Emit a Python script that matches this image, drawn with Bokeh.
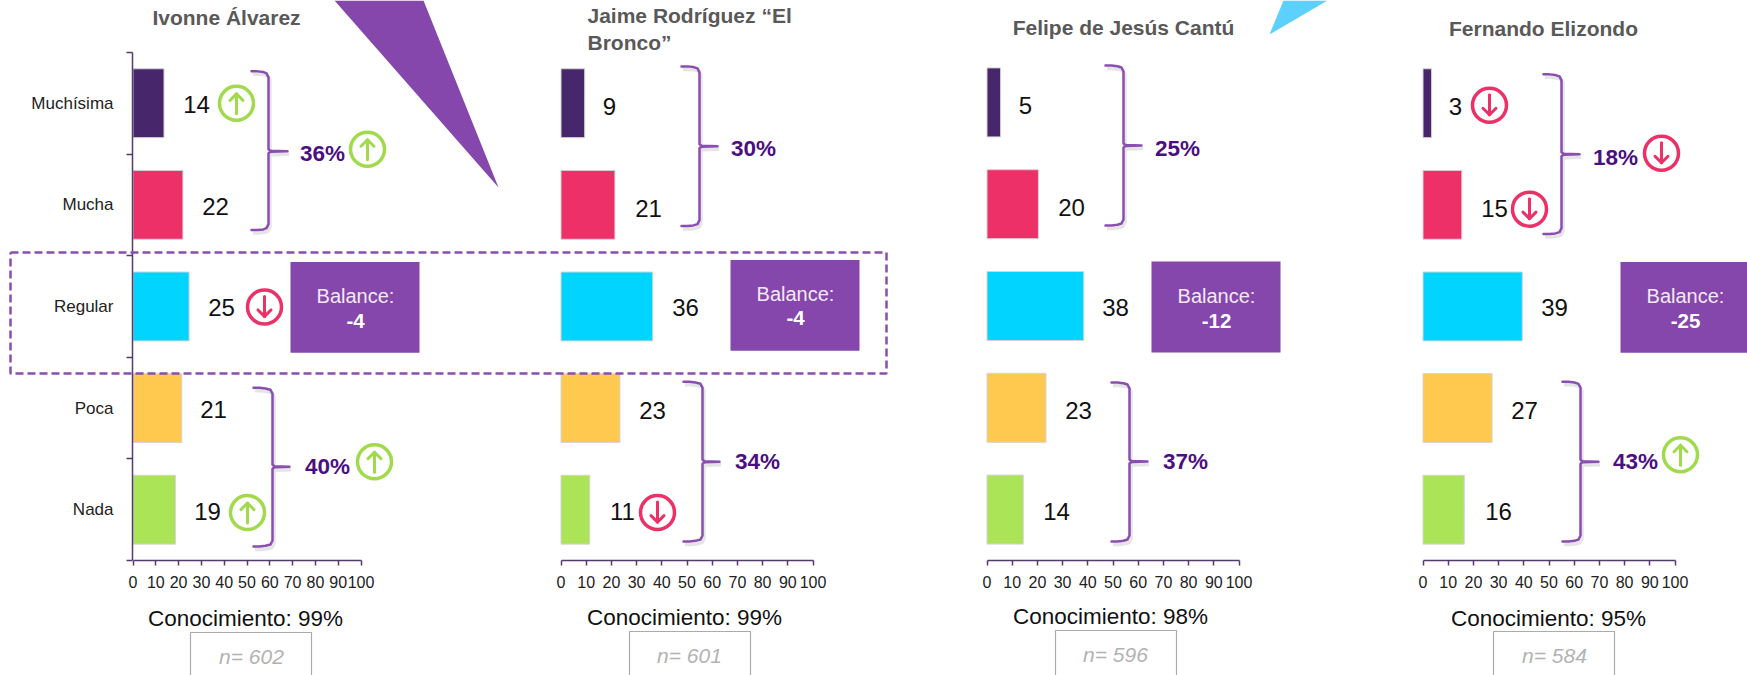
from bokeh.plotting import figure
from bokeh.layouts import row, column
from bokeh.models import Range1d, FixedTicker, AllLabels
from bokeh.core.properties import value
from bokeh.embed import file_html
from bokeh.resources import INLINE

# ---------- data ----------
categories = ["Muchísima", "Mucha", "Regular", "Poca", "Nada"]
x_ticks = [0, 10, 20, 30, 40, 50, 60, 70, 80, 90, 100]
bars_ivonne = [13.6, 21.9, 24.6, 21.4, 18.6]
bars_jaime = [9.4, 21.4, 36.4, 23.4, 11.4]
bars_felipe = [5.4, 20.4, 38.4, 23.4, 14.4]
bars_fernando = [3.4, 15.4, 39.4, 27.4, 16.4]
labels_ivonne = ["14", "22", "25", "21", "19"]
labels_jaime = ["9", "21", "36", "23", "11"]
labels_felipe = ["5", "20", "38", "23", "14"]
labels_fernando = ["3", "15", "39", "27", "16"]
names = ["Ivonne Álvarez", "Jaime Rodríguez “El\nBronco”", "Felipe de Jesús Cantú", "Fernando Elizondo"]
group_high = ["36%", "30%", "25%", "18%"]
group_low = ["40%", "34%", "37%", "43%"]
balances = ["-4", "-4", "-12", "-25"]
conocimiento = ["Conocimiento: 99%", "Conocimiento: 99%", "Conocimiento: 98%", "Conocimiento: 95%"]
sample = ["n= 602", "n= 601", "n= 596", "n= 584"]

# ---------- style ----------
FONT = "Liberation Sans"
COLORS = ["#47266B", "#EE3068", "#00D4FF", "#FFC84E", "#ABE457"]
PURPLE = "#8547AB"
BRACE = "#8A4DB0"
DEEP = "#4B0F82"
UP = "#A2DA4E"
DOWN = "#EC3068"
AXIS = "#533A70"
UNIT = 101.8
TOP, BOTTOM = 0, 675

panels = [
    dict(left=0, right=520, x0=132.5, scale=2.28, base=561, vals=bars_ivonne, labs=labels_ivonne,
         lab_pos=[(196, 104), (215, 206), (221, 308), (213, 410), (207, 512)],
         brace=[(251, 268, 71, 230, 151, 287), (253, 272, 388, 547, 467, 289)],
         pct_pos=[(322, 153), (327, 467)],
         arrows=[(236, 103, 1), (367, 149, 1), (264, 307, -1), (374, 462, 1), (247, 513, 1)],
         bal=(290, 419, 262, 353, 355, 296, 321),
         title=(226, 17, "center"), con=(245, 618), nbox=(190, 311, 632), ntext=(251, 656)),
    dict(left=520, right=960, x0=560.5, scale=2.52, base=561, vals=bars_jaime, labs=labels_jaime,
         lab_pos=[(609, 106), (648, 208), (685, 308), (652, 411), (622, 512)],
         brace=[(681, 699, 66, 226, 146, 717), (683, 702, 382, 542, 462, 719)],
         pct_pos=[(753, 148), (757, 462)],
         arrows=[(657, 513, -1)],
         bal=(730, 859, 260, 351, 795, 294, 318),
         title=(587, 28.5, "left"), con=(684, 617), nbox=(629, 750, 631), ntext=(689, 655)),
    dict(left=960, right=1380, x0=986.5, scale=2.52, base=560, vals=bars_felipe, labs=labels_felipe,
         lab_pos=[(1025, 105), (1071, 207), (1115, 307), (1078, 410), (1056, 511)],
         brace=[(1105, 1123, 65, 225, 145, 1141), (1111, 1129, 382, 541, 461, 1147)],
         pct_pos=[(1177, 148), (1185, 461)],
         arrows=[],
         bal=(1151, 1280, 261, 352, 1216, 295, 320),
         title=(1123, 27, "center"), con=(1110, 616), nbox=(1055, 1176, 630), ntext=(1115, 654)),
    dict(left=1380, right=1747, x0=1422.5, scale=2.52, base=561, vals=bars_fernando, labs=labels_fernando,
         lab_pos=[(1455, 106), (1494, 208), (1554, 308), (1524, 411), (1498, 512)],
         brace=[(1543, 1561, 74, 234, 154, 1579), (1562, 1580, 382, 542, 462, 1598)],
         pct_pos=[(1615, 157), (1635, 462)],
         arrows=[(1489, 105, -1), (1661, 153, -1), (1529, 209, -1), (1680, 455, 1)],
         bal=(1620, 1760, 262, 353, 1685, 296, 321),
         title=(1543, 28, "center"), con=(1548, 618), nbox=(1493, 1614, 631), ntext=(1554, 655)),
]

figs = []
for i, P in enumerate(panels):
    x0, sc, base = P["x0"], P["scale"], P["base"]
    fx = lambda px, x0=x0, sc=sc: (px - x0) / sc
    fy = lambda py, base=base: (base - py) / UNIT
    frame_left = int(x0) if i == 0 else P["left"]
    p = figure(width=P["right"] - P["left"], height=BOTTOM - TOP,
               x_range=Range1d(fx(frame_left), fx(P["right"])),
               y_range=Range1d(0, fy(TOP)),
               toolbar_location=None, output_backend="svg",
               y_axis_location="left" if i == 0 else None)
    p.min_border_left = frame_left - P["left"]
    p.min_border_right = 0
    p.min_border_top = 0
    p.min_border_bottom = BOTTOM - base
    p.outline_line_color = None
    p.grid.visible = False
    p.background_fill_color = "white"

    ax = p.xaxis[0]
    ax.ticker = FixedTicker(ticks=x_ticks)
    ax.bounds = (0, 100)
    ax.axis_line_color = AXIS
    ax.axis_line_width = 1.5
    ax.major_tick_line_color = AXIS
    ax.major_tick_line_width = 1.5
    ax.major_tick_in = 0
    ax.major_tick_out = 5
    ax.minor_tick_in = 0
    ax.minor_tick_out = 0
    ax.major_label_policy = AllLabels()
    ax.major_label_standoff = 10
    ax.major_label_text_font = FONT
    ax.major_label_text_font_size = "16px"
    ax.major_label_text_color = "#222222"

    ypos = [4.5, 3.5, 2.5, 1.5, 0.5]
    if i == 0:
        ay = p.yaxis[0]
        ay.ticker = FixedTicker(ticks=ypos, minor_ticks=[0, 1, 2, 3, 4, 5])
        ay.major_label_overrides = dict(zip(ypos, categories))
        ay.bounds = (0, 5)
        ay.axis_line_color = AXIS
        ay.axis_line_width = 1.5
        ay.major_tick_in = 0
        ay.major_tick_out = 0
        ay.minor_tick_in = 0
        ay.minor_tick_out = 6
        ay.minor_tick_line_color = AXIS
        ay.minor_tick_line_width = 1.5
        ay.major_label_standoff = 13
        ay.major_label_text_font = FONT
        ay.major_label_text_font_size = "17px"
        ay.major_label_text_color = "#222222"

    # bars
    p.hbar(y=ypos, left=0, right=P["vals"], height=69 / UNIT, fill_color=COLORS,
           line_color="#D4D4D4", line_width=1)

    # value labels
    p.text([fx(a) for a, _ in P["lab_pos"]], [fy(b) for _, b in P["lab_pos"]], text=P["labs"],
           text_font=value(FONT), text_font_size="24px", text_color="#111111",
           text_align="center", text_baseline="middle")

    # braces
    for tip, sp, t, b, m, nub in P["brace"]:
        px = [tip, tip + 6, tip + 12, sp - 2, sp, sp, sp, sp + 2, nub, sp + 2, sp, sp, sp, sp - 2, tip + 12, tip + 6, tip]
        py = [t, t + 0, t + 0.7, t + 2, t + 6, m - 5, m - 2, m - 0.5, m, m + 0.5, m + 2, m + 5, b - 6, b - 2, b - 0.7, b, b]
        p.line([fx(v + 1.5) for v in px], [fy(v + 3) for v in py], line_color="#888888", line_alpha=0.22, line_width=3.5)
        p.line([fx(v) for v in px], [fy(v) for v in py], line_color=BRACE, line_width=2.5, line_join="round", line_cap="round")

    # group percentages
    p.text([fx(P["pct_pos"][0][0]), fx(P["pct_pos"][1][0])],
           [fy(P["pct_pos"][0][1]), fy(P["pct_pos"][1][1])],
           text=[group_high[i], group_low[i]],
           text_font=value(FONT), text_font_size="22.5px", text_font_style="bold", text_color=DEEP,
           text_align="center", text_baseline="middle")

    # change arrows
    for cx, cy, d in P["arrows"]:
        col = UP if d > 0 else DOWN
        p.scatter([fx(cx)], [fy(cy)], size=34, marker="circle", fill_alpha=0, line_color=col, line_width=3.5)
        tip_y = cy - 9.5 * d
        p.line([fx(cx), fx(cx)], [fy(cy + 10.5 * d), fy(tip_y)], line_color=col, line_width=3, line_cap="round")
        p.line([fx(cx - 6.5), fx(cx), fx(cx + 6.5)], [fy(tip_y + 6.5 * d), fy(tip_y), fy(tip_y + 6.5 * d)],
               line_color=col, line_width=3, line_cap="round", line_join="round")

    # balance box
    bl, br, bt, bb, bcx, by1, by2 = P["bal"]
    p.quad(left=[fx(bl)], right=[fx(br)], top=[fy(bt)], bottom=[fy(bb)], color=PURPLE, line_width=0)
    p.text([fx(bcx)], [fy(by1)], text=["Balance:"], text_font=value(FONT), text_font_size="20px",
           text_color="#F2E9F7", text_align="center", text_baseline="middle")
    p.text([fx(bcx)], [fy(by2)], text=[balances[i]], text_font=value(FONT), text_font_size="20.5px",
           text_font_style="bold", text_color="white", text_align="center", text_baseline="middle")

    # candidate name
    tx, ty, ta = P["title"]
    p.text([fx(tx)], [fy(ty)], text=[names[i]], text_font=value(FONT), text_font_size="21px",
           text_font_style="bold", text_color="#595959", text_align=ta, text_baseline="middle",
           text_line_height=1.2)
    figs.append(p)

# ---------- transparent sheet over the panels, in page pixels ----------
sheet = figure(width=1747, height=675, x_range=Range1d(0, 1747), y_range=Range1d(675, 0),
               toolbar_location=None, output_backend="svg", x_axis_location=None, y_axis_location=None,
               min_border=0, margin=(-675, 0, 0, 0))
sheet.outline_line_color = None
sheet.grid.visible = False
sheet.background_fill_alpha = 0
sheet.border_fill_alpha = 0

sheet.patch([334, 423, 498], [0, 0, 187], color=PURPLE, line_width=0)
sheet.patch([1283, 1327, 1269], [0, 0, 34], color="#5CD0FF", line_width=0)
sheet.line([10, 886, 886, 10, 10], [252, 252, 373, 373, 252], line_color=BRACE, line_width=2.5, line_dash="8 4")

for i, P in enumerate(panels):
    nl, nr, nt = P["nbox"]
    sheet.line([nl, nl, nr, nr], [690, nt, nt, 690], line_color="#ABABAB", line_width=1.2)
    tx, ty = P["ntext"]
    sheet.text([tx], [ty], text=[sample[i]], text_font=value(FONT), text_font_size="21px",
               text_font_style="italic", text_color="#B3B3B3", text_align="center", text_baseline="middle")
    cx, cy = P["con"]
    sheet.text([cx], [cy], text=[conocimiento[i]], text_font=value(FONT), text_font_size="22.5px",
               text_color="#111111", text_align="center", text_baseline="middle")

layout = column(row(*figs, spacing=0), sheet, spacing=0)
open("out.html", "w").write(file_html(layout, INLINE))
